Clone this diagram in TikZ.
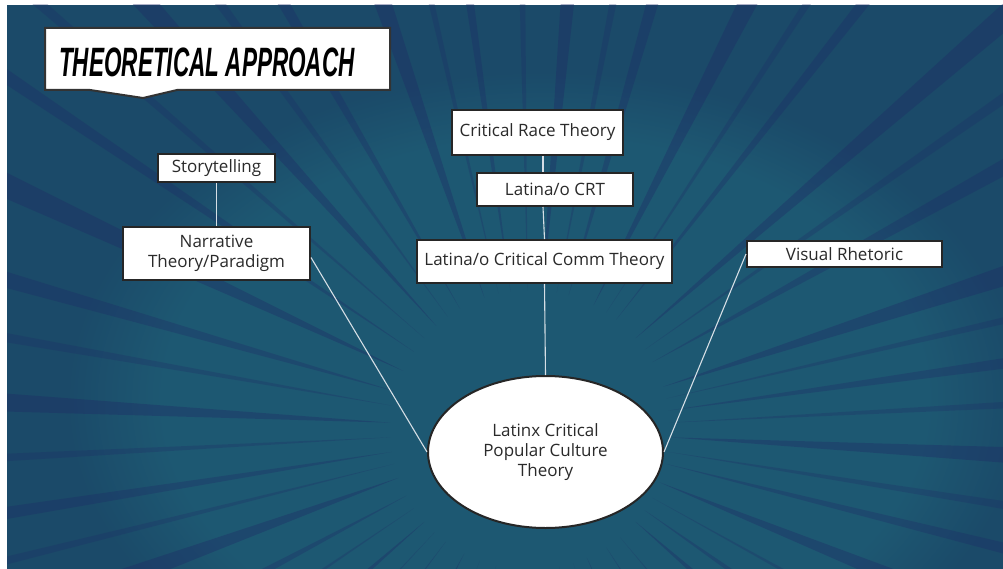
\documentclass[tikz,border=0pt]{standalone}
\usepackage{fontspec}
\setmainfont{Open Sans}
\newfontfamily\titlefont{Liberation Sans}
\usetikzlibrary{shapes.geometric,calc,fadings}
\definecolor{bgbase}{HTML}{1B4A69}
\definecolor{raydark}{HTML}{1E2866}
\definecolor{bglight}{HTML}{1F5E76}
\definecolor{txt}{HTML}{2A2A2A}
\definecolor{linkc}{HTML}{D5DEE5}
\begin{document}
\begin{tikzpicture}[x=1pt,y=-1pt,
  box/.style={draw=black!85,line width=2pt,fill=white,text=txt,inner sep=0pt,
    font=\fontsize{17}{20}\selectfont,align=center},
  link/.style={draw=linkc,line width=1.1pt}]
\useasboundingbox (0,0) rectangle (1003,569);
\fill[white] (0,0) rectangle (1003,569);
\begin{scope}
\clip (7,5) rectangle (1003,569);
\fill[bgbase] (7,5) rectangle (1003,569);
\fill[bglight,opacity=0.7,path fading=circle with fuzzy edge 20 percent] (545,400) ellipse (480 and 330);
\coordinate (C) at (530,430);
\foreach \a/\w/\o in {3/1.2/0.35,9/0.6/0.25,14/0.8/0.3,22/1.5/0.35,29/0.5/0.25,35/1/0.3,41/1.4/0.35,50/0.6/0.25,57/0.8/0.3,66/1.2/0.35,72/0.5/0.25,78/0.8/0.3,88/0.6/0.25,95/1.2/0.35,104/0.7/0.3,111/0.5/0.25,118/1.4/0.35,127/0.7/0.3,133/0.5/0.25,139/1.2/0.35,146/0.6/0.25,152/1/0.3,160/1.6/0.35,166/0.5/0.25,171/0.8/0.3,177/0.5/0.25,183/1.2/0.35,190/0.6/0.25,196/1/0.3,205/1.4/0.35,214/0.7/0.3,221/0.5/0.25,228/1.2/0.35,234/0.6/0.25,240/0.8/0.3,251/1.4/0.35,257/0.5/0.25,262/0.7/0.3,269/0.5/0.25,275/1.2/0.35,281/0.6/0.25,286/1/0.3,297/1.4/0.35,303/0.5/0.25,308/0.7/0.3,319/1.2/0.35,325/0.6/0.25,331/1/0.3,342/1.4/0.35,347/0.5/0.25,352/0.8/0.3,357/0.5/0.25}{
  \fill[raydark,opacity=\o] ($(C)+(\a:140)$) -- ($(C)+(\a-\w:1400)$) -- ($(C)+(\a+\w:1400)$) -- cycle;
}
\end{scope}
% title
\filldraw[fill=white,draw=black!80,line width=2pt] (45,28) -- (390,28) -- (390,90) -- (177,90) -- (143,98) -- (90,90) -- (45,90) -- cycle;
\node (title) at (207,62) {\titlefont\bfseries\itshape\fontsize{41}{41}\selectfont\scalebox{0.55}[1]{THEORETICAL APPROACH}};
% nodes
\node[box,minimum width=117pt,minimum height=28pt] (story) at (216.5,168) {Storytelling};
\node[box,minimum width=187pt,minimum height=53pt] (narr) at (216.5,253.5) {Narrative\\Theory/Paradigm};
\node[box,minimum width=171pt,minimum height=45pt] (crt) at (537.5,132.5) {Critical Race Theory};
\node[box,minimum width=156pt,minimum height=33pt] (lcrt) at (555,189.5) {Latina/o CRT};
\node[box,minimum width=255pt,minimum height=43pt] (lcct) at (544.5,261.5) {Latina/o Critical Comm Theory};
\node[box,minimum width=195pt,minimum height=26pt] (vr) at (844.5,254) {Visual Rhetoric};
\node[box,ellipse,minimum width=235pt,minimum height=152pt] (ell) at (545.5,452) {Latinx Critical\\Popular Culture\\Theory};
% links
\draw[link] (story.south) -- (narr.north);
\draw[link] ([xshift=5.5pt]crt.south) -- ([xshift=-12pt]lcrt.north);
\draw[link] ([xshift=-12pt]lcrt.south) -- (lcct.north);
\draw[link] (lcct.south) -- (ell.north);
\draw[link] ([yshift=-4pt]narr.east) -- (ell.west);
\draw[link] (ell.east) -- (vr.west);
\end{tikzpicture}
\end{document}
